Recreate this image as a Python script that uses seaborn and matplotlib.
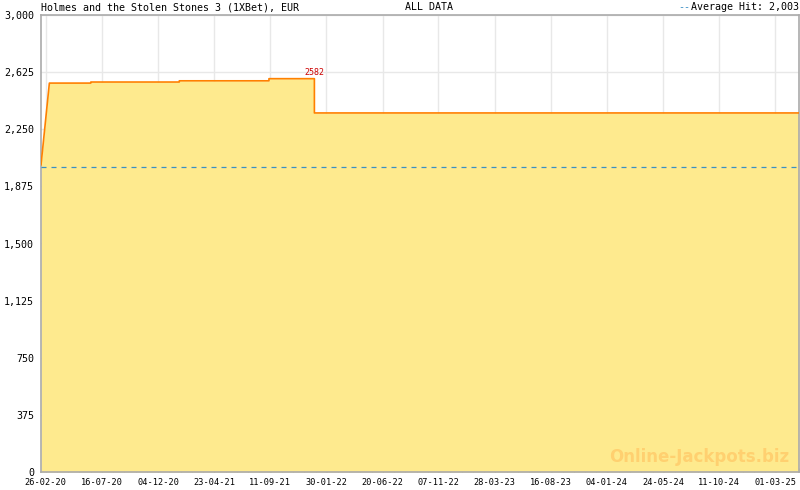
import pandas as pd
import matplotlib
matplotlib.use('Agg')
import matplotlib.pyplot as plt
from matplotlib.ticker import FuncFormatter
import seaborn as sns

# step points of the jackpot value
dates = ['2020-02-14', '2020-03-06', '2020-06-18', '2020-06-18', '2021-01-26',
         '2021-01-26', '2021-09-08', '2021-09-08', '2021-12-31', '2021-12-31',
         '2025-04-30']
values = [2015, 2553, 2553, 2560, 2560, 2568, 2568, 2582, 2582, 2357, 2357]
average_hit = 2003
peak_value = 2582
peak_date = '2021-12-31'

tick_labels = ['26-02-20', '16-07-20', '04-12-20', '23-04-21', '11-09-21',
               '30-01-22', '20-06-22', '07-11-22', '28-03-23', '16-08-23',
               '04-01-24', '24-05-24', '11-10-24', '01-03-25']
y_ticks = [0, 375, 750, 1125, 1500, 1875, 2250, 2625, 3000]


def main():
    sns.set_style('white', {'text.color': 'black', 'xtick.color': 'black',
                            'ytick.color': 'black'})
    plt.rcParams['font.family'] = ['DejaVu Sans Mono']
    df = pd.DataFrame({'Date': pd.to_datetime(dates), 'Value': values})

    fig = plt.figure(figsize=(8, 4.9), dpi=100)
    ax = fig.add_axes([41 / 800, 18 / 490, 758 / 800, 457 / 490])

    ax.fill_between(df['Date'], df['Value'], 0, color='#feea8e', lw=0, zorder=2)
    sns.lineplot(data=df, x='Date', y='Value', estimator=None, sort=False,
                 color='#ff8000', lw=1.2, ax=ax, zorder=3)
    ax.axhline(average_hit, color='#3a8fc4', lw=0.9, ls=(0, (4, 4)), zorder=4)

    ax.annotate(f'{peak_value}', (pd.Timestamp(peak_date), peak_value),
                xytext=(0, 1.5), textcoords='offset points', ha='center',
                va='bottom', color='#cc0000', fontsize=6, zorder=5)

    majors = pd.to_datetime(tick_labels, format='%d-%m-%y')
    step = (majors[1] - majors[0]) / 5
    minors = [majors[0] + step * i for i in range(-1, 5 * len(majors) + 5)]
    ax.set_xticks(majors)
    ax.set_xticklabels(tick_labels)
    ax.set_xticks(minors, minor=True)
    ax.set_xlim(pd.Timestamp('2020-02-14'), pd.Timestamp('2025-04-30'))

    ax.set_yticks(y_ticks)
    ax.yaxis.set_major_formatter(FuncFormatter(lambda v, p: f'{int(v):,}'))
    ax.set_ylim(0, 3000)

    ax.grid(True, color='#e8e8e8', lw=1, zorder=0)
    ax.set_axisbelow(True)
    for s in ax.spines.values():
        s.set_color('#aaaaaa')
        s.set_linewidth(1.2)
    ax.tick_params(axis='x', which='major', direction='in', length=5,
                   color='#aaaaaa', labelcolor='black', labelsize=6.2, pad=4,
                   bottom=True)
    ax.tick_params(axis='x', which='minor', direction='in', length=3,
                   color='#aaaaaa', bottom=True)
    ax.tick_params(axis='y', length=0, labelsize=7.2, pad=5, labelcolor='black')
    ax.set_xlabel('')
    ax.set_ylabel('')

    ty = 1 - 7 / 490
    fig.text(41 / 800, ty, 'Holmes and the Stolen Stones 3 (1XBet), EUR',
             fontsize=7.2, va='center', ha='left', color='black')
    fig.text(405 / 800, ty, 'ALL DATA', fontsize=7.2, va='center', ha='left',
             color='black')
    fig.text(799 / 800, ty, 'Average Hit: 2,003', fontsize=7.2,
             va='center', ha='right', color='black')
    fig.text(690 / 800, ty, '--', fontsize=7.2, va='center', ha='right',
             color='#3a8fc4')
    ax.text(0.987, 0.013, 'Online-Jackpots.biz', transform=ax.transAxes,
            ha='right', va='bottom', fontsize=12, fontweight='bold',
            color='#ffd070', family=['DejaVu Sans'], zorder=2.5)

    plt.savefig('out.png', dpi=100)


if __name__ == '__main__':
    main()
